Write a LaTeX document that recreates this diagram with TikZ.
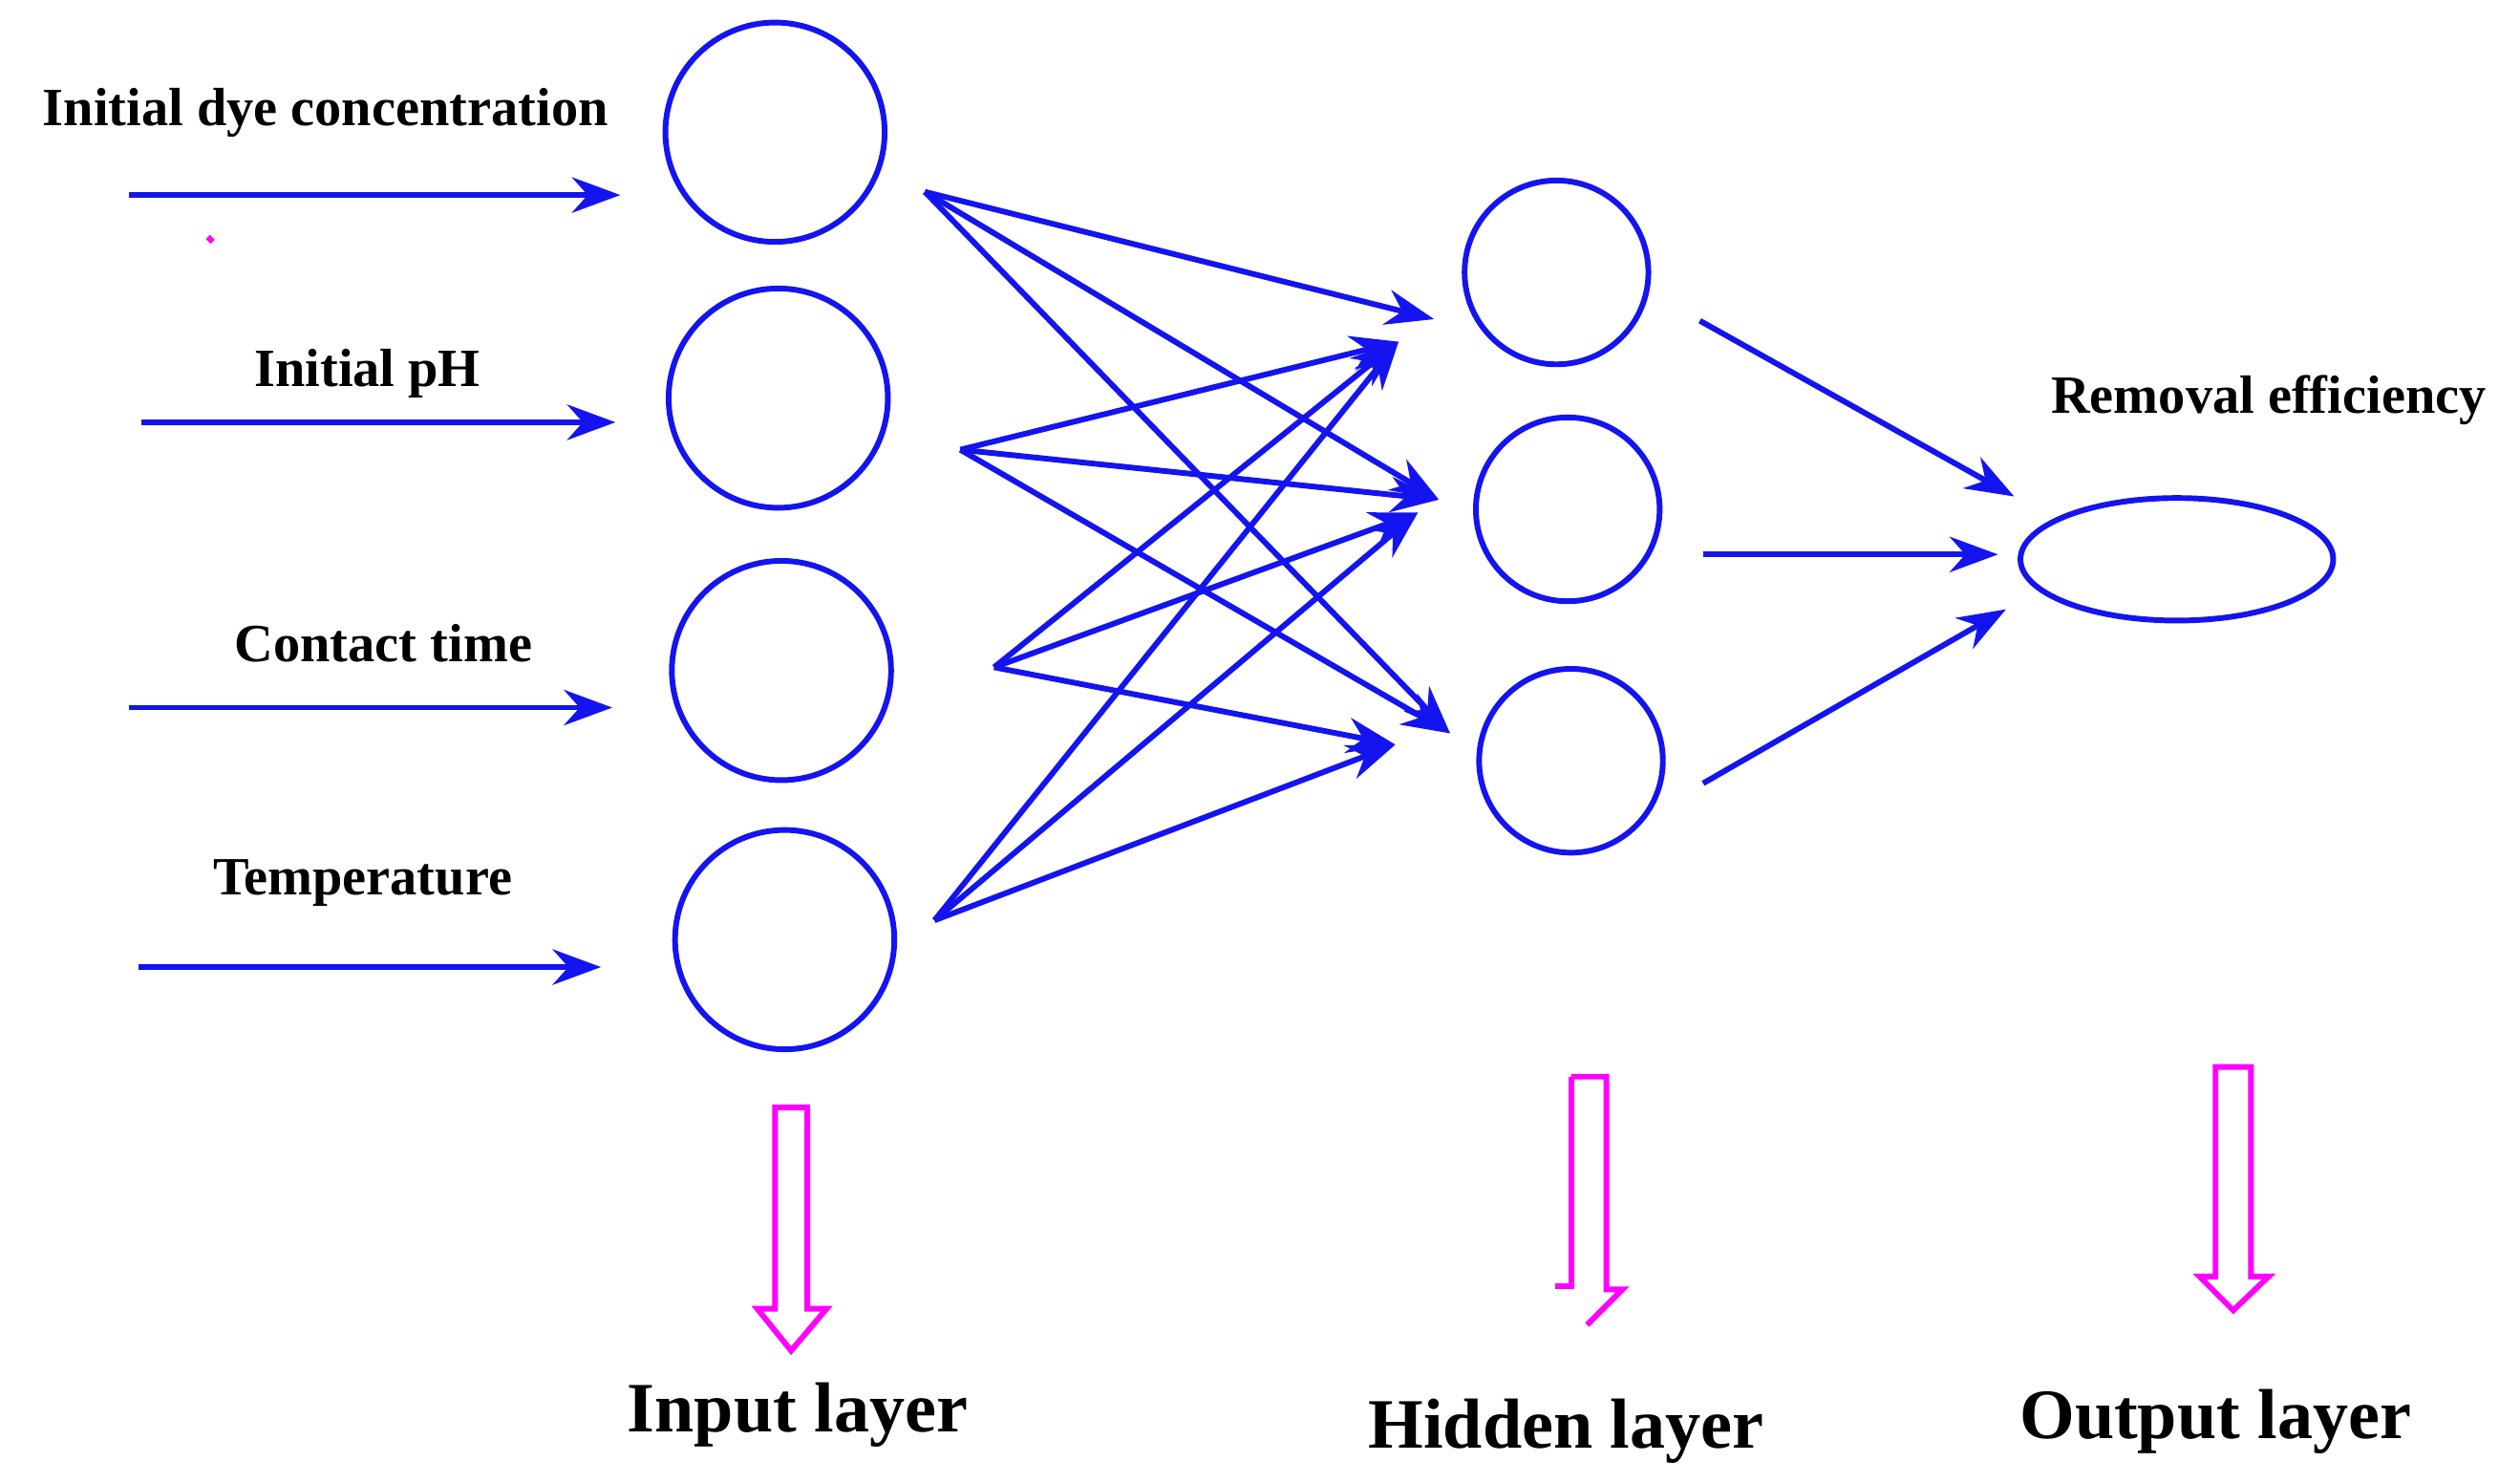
\documentclass[tikz,border=0pt]{standalone}
\usepackage{fontspec}
\setmainfont{Liberation Serif}
\usetikzlibrary{arrows.meta,shapes.geometric}
\definecolor{nb}{RGB}{20,20,240}
\definecolor{mg}{RGB}{255,0,255}
\begin{document}
\begin{tikzpicture}[x=0.01cm,y=-0.01cm,
  neu/.style={draw=nb,line width=1pt,circle,inner sep=0pt},
  ar/.style={draw=nb,line width=1pt,-{Stealth[length=3mm,width=2.2mm]}},
  lab/.style={font=\fontsize{9.5}{11}\selectfont\bfseries},
  big/.style={font=\fontsize{12.5}{14}\selectfont\bfseries},
  hol/.style={draw=mg,line width=1pt}]
\useasboundingbox (0,0) rectangle (1564,920);
\node[neu,minimum size=1.36cm] (i1) at (481,82) {};
\node[neu,minimum size=1.36cm] (i2) at (483,247) {};
\node[neu,minimum size=1.36cm] (i3) at (485,416) {};
\node[neu,minimum size=1.36cm] (i4) at (487,583) {};
\node[neu,minimum size=1.14cm] (h1) at (966,169) {};
\node[neu,minimum size=1.14cm] (h2) at (973,316) {};
\node[neu,minimum size=1.14cm] (h3) at (975,472) {};
\node[draw=nb,line width=1pt,ellipse,minimum width=1.94cm,minimum height=0.76cm,inner sep=0pt] (o) at (1351,347) {};
% input arrows
\coordinate (a1) at (80,121); \coordinate (b1) at (385,121);
\coordinate (a2) at (88,262); \coordinate (b2) at (382,262);
\coordinate (a3) at (80,439); \coordinate (b3) at (380,439);
\coordinate (a4) at (86,600); \coordinate (b4) at (373,600);
\foreach \k in {1,...,4}{\draw[ar] (a\k) -- (b\k);}
\node[lab] (l1) at (202,70) {Initial dye concentration};
\node[lab] (l2) at (228,232) {Initial pH};
\node[lab] (l3) at (238,399) {Contact time};
\node[lab] (l4) at (225,548) {Temperature};
% connections
\coordinate (s1) at (574,119); \coordinate (s2) at (596,279);
\coordinate (s3) at (617,414); \coordinate (s4) at (580,571);
\coordinate (t1) at (890,198); \coordinate (t2) at (893,310); \coordinate (t3) at (900,455);
\coordinate (u1) at (868,212); \coordinate (u2) at (880,318); \coordinate (u3) at (866,462);
\draw[ar] (s1) -- (t1); \draw[ar] (s1) -- (t2); \draw[ar] (s1) -- (t3);
\draw[ar] (s2) -- (u1); \draw[ar] (s2) -- (t2); \draw[ar] (s2) -- (t3);
\draw[ar] (s3) -- (u1); \draw[ar] (s3) -- (u2); \draw[ar] (s3) -- (u3);
\draw[ar] (s4) -- (u1); \draw[ar] (s4) -- (u2); \draw[ar] (s4) -- (u3);
% hidden to output
\coordinate (p1) at (1055,199); \coordinate (q1) at (1250,308);
\coordinate (p2) at (1057,344); \coordinate (q2) at (1240,344);
\coordinate (p3) at (1057,486); \coordinate (q3) at (1245,378);
\foreach \k in {1,2,3}{\draw[ar] (p\k) -- (q\k);}
\node[lab] (re) at (1408,248) {Removal efficiency};
% hollow arrows
\draw[hol] (481,687) -- (501,687) -- (501,812) -- (513,812) -- (491,838) -- (470,812) -- (481,812) -- cycle;
\draw[hol] (975,668) -- (997,668) -- (997,800) -- (1007,800) -- (985,822);
\draw[hol] (975,668) -- (975,798) -- (965,798);
\draw[hol] (1375,662) -- (1397,662) -- (1397,792) -- (1408,792) -- (1386,813) -- (1365,792) -- (1375,792) -- cycle;
\draw[mg,line width=1pt] (129,147) -- (132,150);
\node[big] (il) at (495,878) {Input layer};
\node[big] (hl) at (972,888) {Hidden layer};
\node[big] (ol) at (1375,882) {Output layer};
\end{tikzpicture}
\end{document}
